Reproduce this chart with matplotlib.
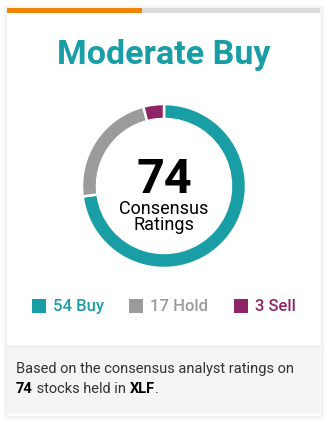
import matplotlib
matplotlib.use("Agg")
import matplotlib.pyplot as plt
from matplotlib.patches import Rectangle

plt.rcParams["font.family"] = ["Roboto", "DejaVu Sans"]

W, H, DPI = 330, 422, 100

labels = ["Buy", "Hold", "Sell"]
counts = [54, 17, 3]
colors = ["#1a9ea6", "#9b9b9b", "#8e2465"]
rating = "Moderate Buy"
ticker = "XLF"
total = sum(counts)

TEAL = "#1a9ea6"
ORANGE = "#ee8500"

fig = plt.figure(figsize=(W / DPI, H / DPI), dpi=DPI)
fig.set_facecolor("white")
ax = fig.add_axes([0, 0, 1, 1])
ax.set_xlim(0, W)
ax.set_ylim(H, 0)
ax.set_axis_off()

# card with a soft drop shadow
cx0, cy0, cx1, cy1 = 7, 8, 320, 414
for i, a in enumerate([0.05, 0.035, 0.02, 0.01]):
    d = i + 1
    ax.add_patch(Rectangle((cx0 - d, cy0 - d + 1), cx1 - cx0 + 2 * d, cy1 - cy0 + 2 * d,
                           facecolor="none", edgecolor="black", alpha=a, lw=1))
ax.add_patch(Rectangle((cx0, cy0), cx1 - cx0, cy1 - cy0, facecolor="white", edgecolor="none"))
# top progress bar
ax.add_patch(Rectangle((cx0, cy0), cx1 - cx0, 5, facecolor="#dcdcdc", edgecolor="none"))
ax.add_patch(Rectangle((cx0, cy0), 135, 5, facecolor=ORANGE, edgecolor="none"))
# footer band
ax.add_patch(Rectangle((cx0, 346), cx1 - cx0, cy1 - 346, facecolor="#f4f4f4", edgecolor="none"))
ax.plot([cx0, cx1], [346, 346], color="#e6e6e6", lw=0.8)

ax.text(164, 55, rating, ha="center", va="center", fontsize=24.5,
        fontweight="bold", color=TEAL)

# donut
r = 82
dcx, dcy = 164, 186
dax = fig.add_axes([(dcx - r) / W, (H - dcy - r) / H, 2 * r / W, 2 * r / H])
dax.pie(counts, colors=colors, startangle=90, counterclock=False, radius=1,
        wedgeprops=dict(width=15 / r, edgecolor="white", linewidth=1.8))
dax.set_xlim(-1.0, 1.0)
dax.set_ylim(-1.0, 1.0)
dax.set_aspect("equal")
dax.set_axis_off()

ax.text(164, 180, str(total), ha="center", va="center", fontsize=35,
        fontweight="bold", color="black")
ax.text(164, 217, "Consensus\nRatings", ha="center", va="center", fontsize=13,
        color="black", linespacing=0.92)

# legend
leg_x = [32, 129, 234]
for x, lab, n, c in zip(leg_x, labels, counts, colors):
    ax.add_patch(Rectangle((x, 299), 14, 14, facecolor=c, edgecolor="none"))
    ax.text(x + 21, 306.5, f"{n} {lab}", ha="left", va="center", fontsize=12,
            fontweight="medium", color=c)

# footer text with bold pieces
fs = 10.5
ax.text(16, 369, "Based on the consensus analyst ratings on", ha="left",
        va="center", fontsize=fs, color="#333333")
pieces = [(str(total), "bold", "black"), (" stocks held in ", "normal", "#333333"),
          (ticker, "bold", "black"), (".", "normal", "#333333")]
prev = ax.text(16, 389, pieces[0][0], ha="left", va="center", fontsize=fs,
               fontweight=pieces[0][1], color=pieces[0][2])
for txt, wt, col in pieces[1:]:
    prev = ax.annotate(txt, xy=(1, 0), xycoords=prev, ha="left", va="bottom",
                       fontsize=fs, fontweight=wt, color=col)

fig.savefig("out.png", dpi=DPI, facecolor="white")
